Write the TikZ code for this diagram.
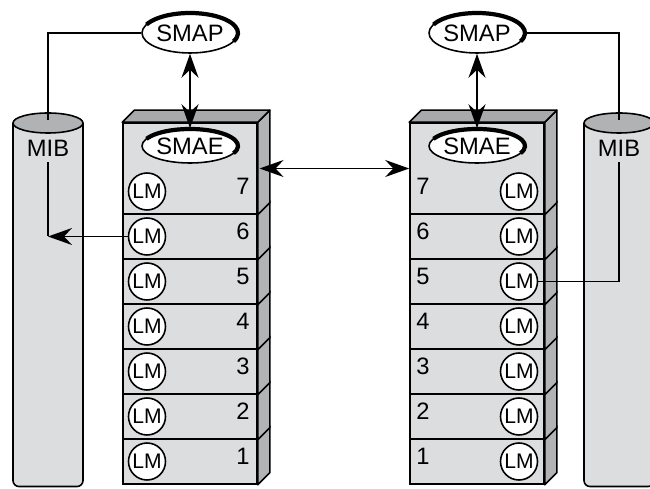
\documentclass[tikz,border=0pt]{standalone}
\usepackage{fontspec}
\setmainfont{Liberation Sans}
\usetikzlibrary{positioning, arrows.meta, shapes.geometric, calc}
\definecolor{facegray}{HTML}{DCDDDE}
\definecolor{sidegray}{HTML}{B2B3B5}
\definecolor{topgray}{HTML}{A8A9AB}
\definecolor{cyltop}{HTML}{B1B2B4}
\tikzset{
  front/.style  ={draw, fill=facegray, line width=0.9pt, minimum width=2.68cm,
                  minimum height=0.9cm, inner sep=0pt},
  side/.style   ={draw, fill=sidegray, line width=0.9pt, line join=round},
  topface/.style={draw, fill=topgray, line width=0.9pt, line join=round},
  cylbody/.style={draw, fill=facegray, line width=0.9pt, rounded corners=0.12cm},
  cylend/.style ={draw, fill=cyltop, line width=0.9pt},
  lm/.style     ={draw, circle, fill=white, line width=0.9pt, minimum size=0.74cm,
                  inner sep=0pt, font=\fontsize{12}{14}\selectfont},
  num/.style    ={font=\fontsize{13.5}{15}\selectfont},
  ent/.style    ={draw, ellipse, fill=white, line width=0.9pt, minimum width=1.92cm,
                  inner sep=0pt, font=\fontsize{13.5}{15}\selectfont},
  rim/.style    ={line width=2.4pt},
  wire/.style   ={line width=0.9pt},
  flow/.style   ={-{Stealth[length=4.8mm, width=3.4mm, inset=1.6mm]}, line width=1pt},
  flowbi/.style ={{Stealth[length=4.8mm, width=3.4mm, inset=1.6mm]}-{Stealth[length=4.8mm, width=3.4mm, inset=1.6mm]},
                  line width=1pt},
}

\begin{document}
\begin{tikzpicture}
  \useasboundingbox (0,0) rectangle (13,9.76);
  % MIB stores
  \foreach \st/\cx in {L/0.96, R/12.38}{
    \draw[cylbody] (\cx-0.7,7.30) -- (\cx-0.7,0.03) -- (\cx+0.7,0.03) -- (\cx+0.7,7.30);
    \draw[cylend] (\cx,7.30) ellipse [x radius=0.7, y radius=0.2];
    \coordinate (mib\st top) at (\cx,7.36);
    \node[num] (mib\st) at (\cx,6.80) {MIB};
  }
  % layer stacks
  \foreach \st/\cx/\lx/\nx in {L/3.80/2.94/4.86, R/9.54/10.38/8.46}{
    \node[front, minimum height=1.82cm] (\st7) at (\cx,6.39) {};
    \foreach \i in {1,...,6}
      \node[front] (\st\i) at (\cx,{0.9*\i-0.37}) {};
    \foreach \i in {1,...,7}
      \draw[side] (\st\i.south east) -- ++(0.24,0.24) -- ($(\st\i.north east)+(0.24,0.24)$)
                  -- (\st\i.north east) -- cycle;
    \draw[topface] (\st7.north west) -- ++(0.24,0.24) -- ($(\st7.north east)+(0.24,0.24)$)
                   -- (\st7.north east) -- cycle;
    \foreach \i in {1,...,7}{
      \node[lm] (\st lm\i) at (\lx,{0.9*\i-0.37}) {LM};
      \node[num] (\st n\i) at (\nx,{0.9*\i-0.27}) {\i};
    }
    \node[ent, minimum height=0.68cm] (\st smae) at (\cx,6.84) {SMAE};
    \draw[rim] ($(\st smae.center)+(155:0.96 and 0.34)$) arc[start angle=155, end angle=-25, x radius=0.96, y radius=0.34];
    \node[ent, minimum height=0.80cm] (\st smap) at (\cx,9.10) {SMAP};
    \draw[rim] ($(\st smap.center)+(155:0.96 and 0.40)$) arc[start angle=155, end angle=-25, x radius=0.96, y radius=0.40];
    \draw[flowbi] (\st smap) -- (\st smae);
  }
  \draw[flowbi] ([xshift=1pt]L7.east) -- (R7.west);
  \draw[wire] (Lsmap.west) -| (mibLtop);
  \draw[wire] (mibL.south) -- (mibL.south |- Llm6);
  \draw[flow] (Llm6) -- (mibL.south |- Llm6);
  \draw[wire] (Rsmap.east) -| (mibRtop);
  \draw[wire] (mibR.south) |- (Rlm5);
\end{tikzpicture}
\end{document}
